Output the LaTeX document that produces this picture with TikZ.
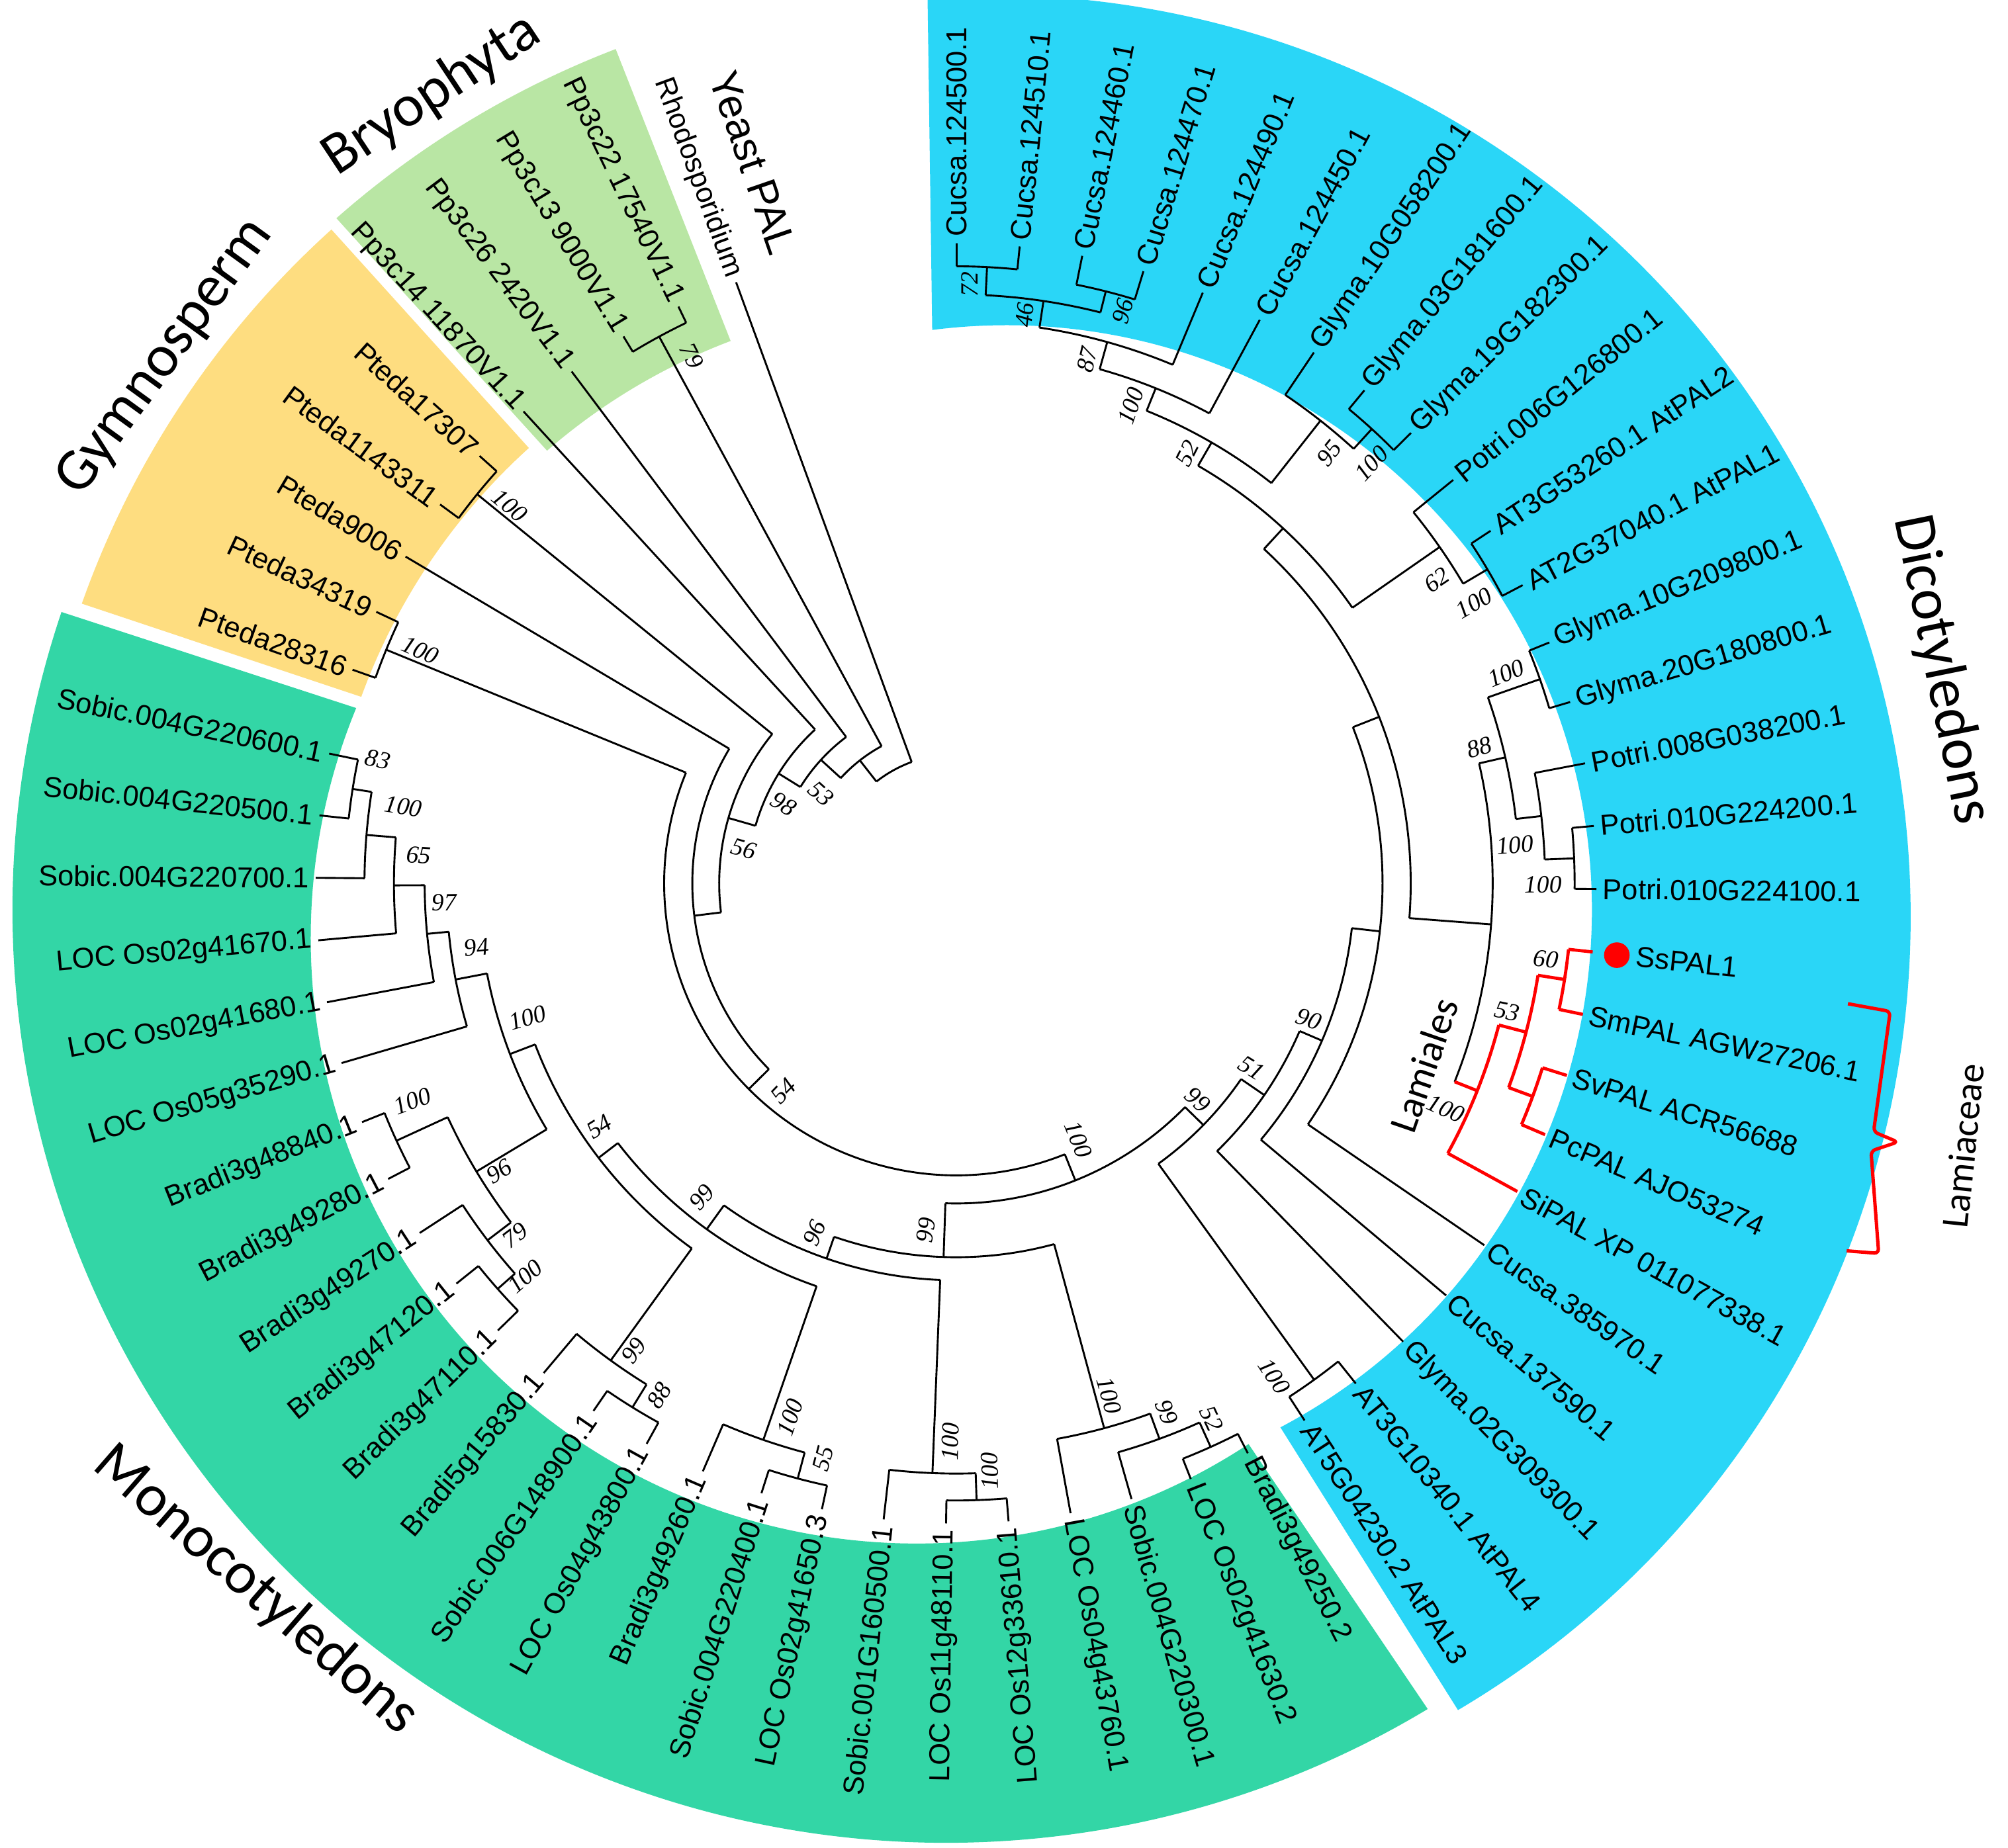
\documentclass[tikz,border=0pt]{standalone}
\usepackage{fontspec}
\setmainfont{Liberation Sans}
\newfontfamily\bootfont{Liberation Serif}
\newfontfamily\cladefont{Carlito}
\definecolor{dicotblue}{RGB}{42,214,247}
\definecolor{monogreen}{RGB}{51,214,166}
\definecolor{gymnoyellow}{RGB}{254,221,128}
\definecolor{bryogreen}{RGB}{185,230,164}
\tikzset{
  branch/.style={line width=0.85pt},
  lamiabranch/.style={line width=1.4pt, red},
  taxonR/.style={anchor=west, inner sep=1pt, font=\fontsize{12.8}{14}\selectfont},
  taxonL/.style={anchor=east, inner sep=1pt, font=\fontsize{12.8}{14}\selectfont},
  boot/.style={inner sep=0pt, font=\fontsize{11}{12}\selectfont\bootfont\itshape},
  cladename/.style={inner sep=0pt, font=\fontsize{26.5}{30}\selectfont\cladefont},
}
\begin{document}
\begin{tikzpicture}[x=0.02cm, y=0.02cm]
\useasboundingbox (0,0) rectangle (1568,-1443);

% coloured bands
\fill[dicotblue] ([shift={(93.8:720)}]772,-716) arc[start angle=93.8, end angle=-59.4, radius=720]
  -- ([shift={(-62.1:457)}]786,-711) arc[start angle=-62.1, end angle=97.3, radius=457] -- cycle;
\fill[monogreen] ([shift={(161.4:728.9)}]738.8,-710.5) arc[start angle=161.4, end angle=301.06, radius=728.9]
  -- ([shift={(303.3:472.8)}]715.4,-732.8) arc[start angle=303.3, end angle=157.65, radius=472.8] -- cycle;
\fill[gymnoyellow] ([shift={(132.1:716)}]738.8,-710.5) arc[start angle=132.1, end angle=160.5, radius=716]
  -- ([shift={(160:486)}]738.8,-710.5) arc[start angle=160, end angle=132.1, radius=486] -- cycle;
\fill[bryogreen] ([shift={(111:720)}]738.8,-710.5) arc[start angle=111, end angle=131.4, radius=720]
  -- ([shift={(131:475)}]738.8,-710.5) arc[start angle=131, end angle=110.75, radius=475] -- cycle;

\begin{scope}[shift={(746.6,-690)}]
  % node arcs
  \foreach \ang/\bng/\rad in {89.95/84.30/482, 78.64/72.99/477, 87.125/75.815/460, 81.47/67.34/439,
      74.405/61.69/417, 50.38/44.73/481, 56.03/47.555/460, 68.05/51.79/398, 33.42/27.77/482,
      39.07/30.595/460, 59.92/34.83/377, 22.11/16.46/483, 5.15/-0.5/483, 10.81/2.325/460,
      19.285/6.57/440, 12.93/-21.7/419, 47.375/-4.385/355, 21.495/-34.42/333,
      -6.46/-40.07/311, -23.265/-45.72/292, -51.38/-57.03/478, -34.49/-54.205/270,
      -62.9/-68.5/483, -65.7/-74.1/462, -69.9/-79.7/441, -85.3/-90.9/482, -88.1/-96.5/461,
      -102.1/-107.7/481, -104.9/-113.3/460, -118.9/-124.5/481, -121.7/-130.1/460,
      -135.7/-141.3/478, -138.5/-146.9/460, -152.5/-158.1/481, -142.7/-155.3/437,
      -186.1/-191.7/477, -180.5/-188.9/462, -174.9/-184.7/439, -169.3/-179.8/415,
      -163.7/-174.55/398, -149/-169.125/373, -125.9/-159.06/352, -109.1/-142.48/333,
      -92.3/-125.79/310, -74.8/-109.045/292, -44.35/-91.92/250,
      -216.3/-221.9/482, -199.5/-205.1/481, -238.7/-244.3/486, -68.135/-202.3/228,
      -135.22/-210.7/206, -172.96/-219.1/185, -196.03/-227.5/163, -211.765/-233.1/143,
      -222.43/-241.5/122, -231.965/-249.9/101}
    \draw[branch] (\ang:\rad) arc[start angle=\ang, end angle=\bng, radius=\rad];

  % stems between nodes
  \foreach \ang/\ri/\ro in {87.125/460/482, 75.815/460/477, 81.47/439/460, 74.405/417/439,
      68.05/398/417, 47.555/460/481, 51.79/398/460, 59.92/377/398, 30.595/460/482,
      34.83/377/460, 47.375/355/377, 19.285/440/483, 2.325/460/483, 6.57/440/460,
      12.93/419/440, -4.385/355/419, 21.495/333/355, -6.46/311/333, -23.265/292/311,
      -34.49/270/292, -54.205/270/478, -44.35/250/270,
      -65.7/462/483, -69.9/441/462, -74.8/292/441, -88.1/461/482, -92.3/310/461,
      -104.9/460/481, -109.1/333/460, -121.7/460/481, -125.9/352/460, -138.5/460/478,
      -142.7/437/460, -155.3/437/481, -149/373/437, -188.9/462/477, -184.7/439/462,
      -179.8/415/439, -174.55/398/415, -169.125/373/398, -159.06/352/373,
      -142.48/333/352, -125.79/310/333, -109.045/292/310, -91.92/250/292, -68.135/228/250,
      -219.1/185/482, -202.3/228/481, -241.5/122/486, -135.22/206/228,
      -172.96/185/206, -196.03/163/185, -211.765/143/163, -222.43/122/143, -231.965/101/122}
    \draw[branch] (\ang:\ri) -- (\ang:\ro);

  % terminal branches
  \foreach \ang/\ri in {89.95/482, 84.30/482, 78.64/477, 72.99/477, 67.34/439, 61.69/417,
      56.03/460, 50.38/481, 44.73/481, 39.07/460, 33.42/482, 27.77/482, 22.11/483,
      16.46/483, 10.81/460, 5.15/483, -0.5/483, -34.42/333, -40.07/311, -45.72/292,
      -51.38/478, -57.03/478,
      -62.9/483, -68.5/483, -74.1/462, -79.7/441, -85.3/482, -90.9/482, -96.5/461,
      -102.1/481, -107.7/481, -113.3/460, -118.9/481, -124.5/481, -130.1/460, -135.7/478,
      -141.3/478, -146.9/460, -152.5/481, -158.1/481, -163.7/398, -169.3/415, -174.9/439,
      -180.5/462, -186.1/477, -191.7/477,
      -199.5/481, -205.1/481, -210.7/206, -216.3/482, -221.9/482, -227.5/163, -233.1/143,
      -238.7/486, -244.3/486, -249.9/101}
    \draw[branch] (\ang:\ri) -- (\ang:500);

  % Lamiaceae clade
  \foreach \ang/\bng/\rad in {-6.15/-11.81/481, -17.46/-23.11/480, -8.98/-20.285/460, -14.63/-28.77/438}
    \draw[lamiabranch] (\ang:\rad) arc[start angle=\ang, end angle=\bng, radius=\rad];
  \foreach \ang/\ri/\ro in {-8.98/460/481, -20.285/460/480, -14.63/438/460, -21.7/419/438,
      -6.15/481/500, -11.81/481/500, -17.46/480/500, -23.11/480/500, -28.77/438/500}
    \draw[lamiabranch] (\ang:\ri) -- (\ang:\ro);
  \fill[red] (-6.2:519) circle (10);

  % taxa, right half
  \begin{scope}[every node/.style={taxonR}]
    \node[rotate=89.95] (cu124500) at (89.95:503) {Cucsa.124500.1};
    \node[rotate=84.3]  (cu124510) at (84.3:503)  {Cucsa.124510.1};
    \node[rotate=78.64] (cu124460) at (78.64:503) {Cucsa.124460.1};
    \node[rotate=72.99] (cu124470) at (72.99:503) {Cucsa.124470.1};
    \node[rotate=67.34] (cu124490) at (67.34:503) {Cucsa.124490.1};
    \node[rotate=61.69] (cu124450) at (61.69:503) {Cucsa.124450.1};
    \node[rotate=56.03] (gm10g058) at (56.03:503) {Glyma.10G058200.1};
    \node[rotate=50.38] (gm03g181) at (50.38:503) {Glyma.03G181600.1};
    \node[rotate=44.73] (gm19g182) at (44.73:503) {Glyma.19G182300.1};
    \node[rotate=39.07] (po006g126) at (39.07:503) {Potri.006G126800.1};
    \node[rotate=33.42] (atpal2)   at (33.42:503) {AT3G53260.1 AtPAL2};
    \node[rotate=27.77] (atpal1)   at (27.77:503) {AT2G37040.1 AtPAL1};
    \node[rotate=22.11] (gm10g209) at (22.11:503) {Glyma.10G209800.1};
    \node[rotate=16.46] (gm20g180) at (16.46:503) {Glyma.20G180800.1};
    \node[rotate=10.81] (po008g038) at (10.81:503) {Potri.008G038200.1};
    \node[rotate=5.15]  (po010g2242) at (5.15:503) {Potri.010G224200.1};
    \node[rotate=-0.5]  (po010g2241) at (-0.5:503) {Potri.010G224100.1};
    \node[rotate=-6.15] (sspal1)   at (-6.15:532) {SsPAL1};
    \node[rotate=-11.81] (smpal)   at (-11.81:503) {SmPAL AGW27206.1};
    \node[rotate=-17.46] (svpal)   at (-17.46:503) {SvPAL ACR56688};
    \node[rotate=-23.11] (pcpal)   at (-23.11:503) {PcPAL AJO53274};
    \node[rotate=-28.77] (sipal)   at (-28.77:503) {SiPAL XP 011077338.1};
    \node[rotate=-34.42] (cu385970) at (-34.42:503) {Cucsa.385970.1};
    \node[rotate=-40.07] (cu137590) at (-40.07:503) {Cucsa.137590.1};
    \node[rotate=-45.72] (gm02g309) at (-45.72:503) {Glyma.02G309300.1};
    \node[rotate=-51.38] (atpal4)  at (-51.38:503) {AT3G10340.1 AtPAL4};
    \node[rotate=-57.03] (atpal3)  at (-57.03:503) {AT5G04230.2 AtPAL3};
    \node[rotate=-62.9] (bd49250)  at (-62.9:503) {Bradi3g49250.2};
    \node[rotate=-68.5] (os41630)  at (-68.5:503) {LOC Os02g41630.2};
    \node[rotate=-74.1] (sb220300) at (-74.1:503) {Sobic.004G220300.1};
    \node[rotate=-79.7] (os43760)  at (-79.7:503) {LOC Os04g43760.1};
  \end{scope}

  % taxa, left half
  \begin{scope}[every node/.style={taxonL}]
    \node[rotate=94.7]  (os33610)  at (-85.3:503)  {LOC Os12g33610.1};
    \node[rotate=89.1]  (os48110)  at (-90.9:503)  {LOC Os11g48110.1};
    \node[rotate=83.5]  (sb160500) at (-96.5:503)  {Sobic.001G160500.1};
    \node[rotate=77.9]  (os41650)  at (-102.1:503) {LOC Os02g41650.3};
    \node[rotate=72.3]  (sb220400) at (-107.7:503) {Sobic.004G220400.1};
    \node[rotate=66.7]  (bd49260)  at (-113.3:503) {Bradi3g49260.1};
    \node[rotate=61.1]  (os43800)  at (-118.9:503) {LOC Os04g43800.1};
    \node[rotate=55.5]  (sb148900) at (-124.5:503) {Sobic.006G148900.1};
    \node[rotate=49.9]  (bd15830)  at (-130.1:503) {Bradi5g15830.1};
    \node[rotate=44.3]  (bd47110)  at (-135.7:503) {Bradi3g47110.1};
    \node[rotate=38.7]  (bd47120)  at (-141.3:503) {Bradi3g47120.1};
    \node[rotate=33.1]  (bd49270)  at (-146.9:503) {Bradi3g49270.1};
    \node[rotate=27.5]  (bd49280)  at (-152.5:503) {Bradi3g49280.1};
    \node[rotate=21.9]  (bd48840)  at (-158.1:503) {Bradi3g48840.1};
    \node[rotate=16.3]  (os35290)  at (-163.7:503) {LOC Os05g35290.1};
    \node[rotate=10.7]  (os41680)  at (-169.3:503) {LOC Os02g41680.1};
    \node[rotate=5.1]   (os41670)  at (-174.9:503) {LOC Os02g41670.1};
    \node[rotate=-0.5]  (sb220700) at (-180.5:503) {Sobic.004G220700.1};
    \node[rotate=-6.1]  (sb220500) at (-186.1:503) {Sobic.004G220500.1};
    \node[rotate=-11.7] (sb220600) at (-191.7:503) {Sobic.004G220600.1};
    \node[rotate=-19.5] (pteda28316)   at (-199.5:503) {Pteda28316};
    \node[rotate=-25.1] (pteda34319)   at (-205.1:503) {Pteda34319};
    \node[rotate=-30.7] (pteda9006)    at (-210.7:503) {Pteda9006};
    \node[rotate=-36.3] (pteda1143311) at (-216.3:503) {Pteda1143311};
    \node[rotate=-41.9] (pteda17307)   at (-221.9:503) {Pteda17307};
    \node[rotate=-47.5] (pp3c14) at (-227.5:503) {Pp3c14 11870V1.1};
    \node[rotate=-53.1] (pp3c26) at (-233.1:503) {Pp3c26 2420V1.1};
    \node[rotate=-58.7] (pp3c13) at (-238.7:503) {Pp3c13 9000V1.1};
    \node[rotate=-64.3] (pp3c22) at (-244.3:503) {Pp3c22 17540V1.1};
    \node[rotate=-69.9] (rhodo)  at (-249.9:503) {Rhodosporidium};
  \end{scope}
\end{scope}

% bootstrap values
\foreach [count=\i] \x/\y/\rot/\txt in {757/222/90/72, 800/246/84/46, 877/243/75/96, 849/281/77/87,
    883/317/72/100, 927/354/63/52, 1038/354/51/95, 1071/362/47/100, 1122/453/34/62,
    1151/471/30/100, 1176/526/22/100, 1155/584/16/88, 1183/660/5/100, 1205/691/1/100,
    1207/749/-7/60, 1177/790/-12/53, 1129/866/-24/100, 1022/796/-20/90, 977/834/-32/51,
    935/859/-42/99, 842/890/-68/100, 995/1075/-57/100,
    295/593/-13/83, 315/630/-9/100, 327/668/-4/65, 347/705/1/97, 372/740/6/94,
    412/795/16/100, 322/860/20/100, 390/915/31/96, 402/965/37/79, 410/997/41/100,
    468/880/32/54, 548/935/49/99, 495/1055/54/99, 515/1090/58/88, 636/963/66/96,
    723/961/83/99, 617/1107/71/100, 643/1139/75/55, 742/1126/88/100, 773/1149/92/100,
    866/1090/-74/100, 911/1103/-69/99, 946/1108/-65/52,
    540/278/-63/79, 398/395/-40/100, 328/508/-24/100, 641/620/-42/53, 612/628/-32/98,
    581/663/-16/56, 612/852/46/54}
  \node[boot, rotate=\rot] (bs\i) at (\x,-\y) {\txt};

% clade names
\node[cladename, rotate=-78.5] (dicot)   at (1516,-523)  {Dicotyledons};
\node[cladename, rotate=-41]   (monocot) at (200,-1242)  {Monocotyledons};
\node[cladename, rotate=54]    (gymno)   at (129,-279)   {Gymnosperm};
\node[cladename, rotate=33.5]  (bryo)    at (337,-74)    {Bryophyta};
\node[inner sep=0pt, rotate=-71, font=\fontsize{18.5}{20}\selectfont] (yeast) at (588,-127) {Yeast PAL};
\node[inner sep=0pt, rotate=71, font=\fontsize{17.5}{20}\selectfont\cladefont] (lamiales) at (1112,-832) {Lamiales};
\node[inner sep=0pt, rotate=84, font=\fontsize{17}{20}\selectfont\cladefont] (lamiaceae) at (1533,-895) {Lamiaceae};

% bracket for Lamiaceae
\draw[red, line width=1.5pt, rounded corners=2pt] (1443,-784) -- (1476,-790) -- (1463,-884)
  -- (1482,-892) -- (1461,-899) -- (1467,-979) -- (1442,-977);
\end{tikzpicture}
\end{document}
